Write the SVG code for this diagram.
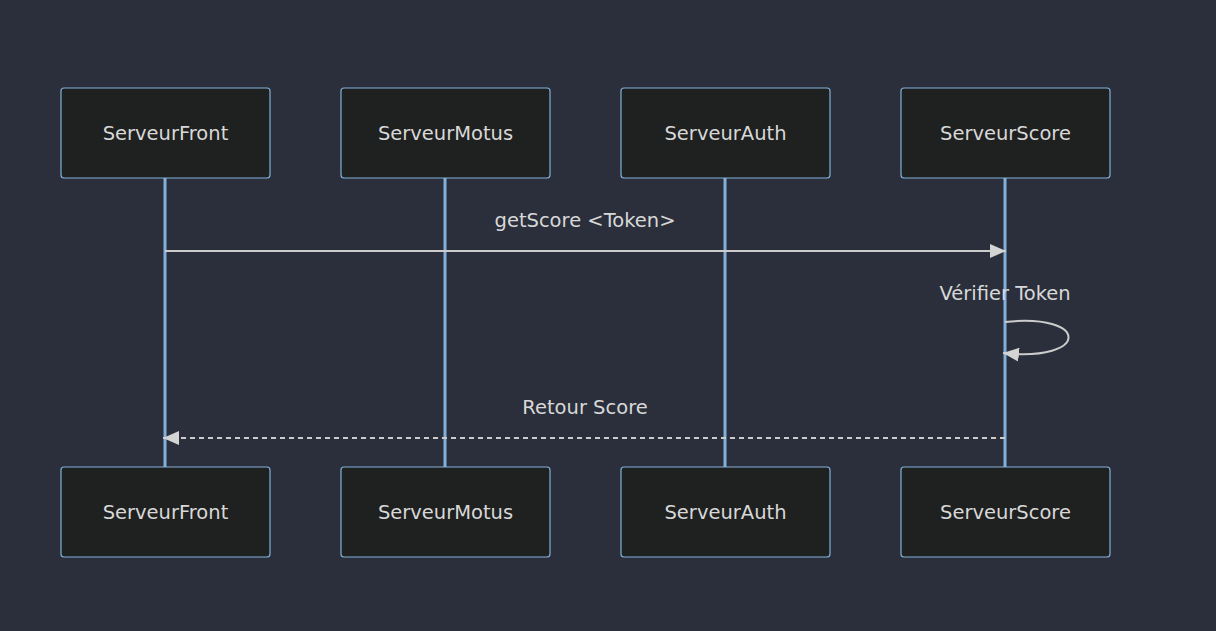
<svg xmlns="http://www.w3.org/2000/svg" width="1216" height="631" viewBox="0 0 1216 631">
<style>
.actor{fill:#1f2020;stroke:#81b1db;stroke-width:1.2}
.atext{font-family:'DejaVu Sans',sans-serif;font-size:19.5px;fill:#d8d8d8;text-anchor:middle;dominant-baseline:central}
.life{stroke:#81b1db;stroke-width:3}
.msg{stroke:#cccccc;stroke-width:2;fill:none}
.mtext{font-family:'DejaVu Sans',sans-serif;font-size:19.5px;fill:#d8d8d8;text-anchor:middle;dominant-baseline:central}
</style>
<defs>
<marker id="arrow" viewBox="0 0 16 14" refX="16" refY="7" markerWidth="16" markerHeight="14" markerUnits="userSpaceOnUse" orient="auto">
<path d="M0,0 L16,7 L0,14 z" fill="#d4d4d4"/>
</marker>
</defs>
<rect width="1216" height="631" fill="#2a2f3b"/>
<g id="lifelines">
<line class="life" x1="165" y1="178" x2="165" y2="467"/>
<line class="life" x1="445" y1="178" x2="445" y2="467"/>
<line class="life" x1="725" y1="178" x2="725" y2="467"/>
<line class="life" x1="1005" y1="178" x2="1005" y2="467"/>
</g>
<g id="ServeurFront">
<rect class="actor" x="61" y="88" width="209" height="90" rx="3"/>
<text class="atext" x="165.5" y="133">ServeurFront</text>
<rect class="actor" x="61" y="467" width="209" height="90" rx="3"/>
<text class="atext" x="165.5" y="512">ServeurFront</text>
</g>
<g id="ServeurMotus">
<rect class="actor" x="341" y="88" width="209" height="90" rx="3"/>
<text class="atext" x="445.5" y="133">ServeurMotus</text>
<rect class="actor" x="341" y="467" width="209" height="90" rx="3"/>
<text class="atext" x="445.5" y="512">ServeurMotus</text>
</g>
<g id="ServeurAuth">
<rect class="actor" x="621" y="88" width="209" height="90" rx="3"/>
<text class="atext" x="725.5" y="133">ServeurAuth</text>
<rect class="actor" x="621" y="467" width="209" height="90" rx="3"/>
<text class="atext" x="725.5" y="512">ServeurAuth</text>
</g>
<g id="ServeurScore">
<rect class="actor" x="901" y="88" width="209" height="90" rx="3"/>
<text class="atext" x="1005.5" y="133">ServeurScore</text>
<rect class="actor" x="901" y="467" width="209" height="90" rx="3"/>
<text class="atext" x="1005.5" y="512">ServeurScore</text>
</g>
<g id="connectors">
<line class="msg" x1="165" y1="251" x2="1006" y2="251" marker-end="url(#arrow)"/>
<text class="mtext" x="585" y="220">getScore &lt;Token&gt;</text>
<path class="msg" d="M1005,322 C1090,313 1090,362 1003,353" marker-end="url(#arrow)"/>
<text class="mtext" x="1005" y="293">Vérifier Token</text>
<line class="msg" x1="1005" y1="438" x2="163" y2="438" stroke-dasharray="5,4" marker-end="url(#arrow)"/>
<text class="mtext" x="585" y="407">Retour Score</text>
</g>
</svg>
